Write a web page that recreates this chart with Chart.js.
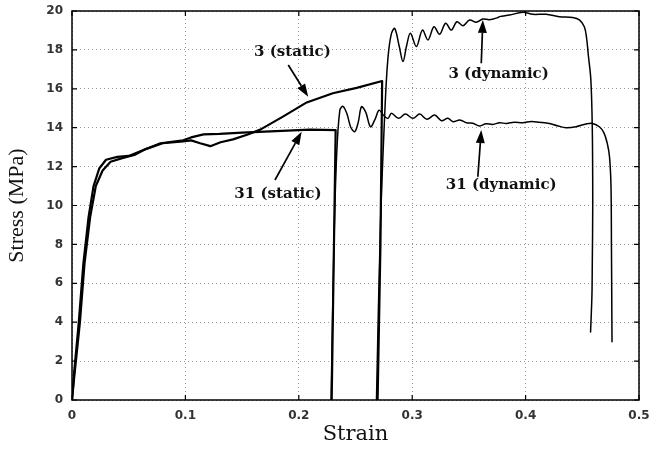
<!DOCTYPE html>
<html>
<head>
<meta charset="utf-8">
<script src="https://cdn.jsdelivr.net/npm/chart.js@4/dist/chart.umd.min.js"></script>
<style>
  html, body { margin: 0; padding: 0; background: #fff; }
  #wrap { width: 650px; height: 449px; }
</style>
</head>
<body>
<div id="wrap"><canvas id="c" width="650" height="449"></canvas></div>
<script>
// Axis ticks
const xTicks = [0, 0.1, 0.2, 0.3, 0.4, 0.5];
const yTicks = [0, 2, 4, 6, 8, 10, 12, 14, 16, 18, 20];

// Stress-strain curves, [strain, stress (MPa)]
const static31 = [
  [0, 0], [0.002, 1.5], [0.006, 4.0], [0.010, 7.0], [0.0146, 9.4], [0.019, 11.0],
  [0.024, 11.9], [0.030, 12.35], [0.040, 12.5], [0.050, 12.55], [0.063, 12.85],
  [0.078, 13.2], [0.098, 13.35], [0.105, 13.5], [0.116, 13.66], [0.130, 13.68],
  [0.150, 13.75], [0.170, 13.8], [0.190, 13.85], [0.210, 13.9], [0.2325, 13.88],
  [0.231, 8.0], [0.229, 0]
];
const static3 = [
  [0, 0], [0.002, 1.2], [0.007, 4.0], [0.011, 7.0], [0.016, 9.4], [0.021, 11.0],
  [0.027, 11.8], [0.034, 12.25], [0.045, 12.45], [0.055, 12.6], [0.065, 12.9],
  [0.080, 13.2], [0.098, 13.3], [0.105, 13.35], [0.113, 13.2], [0.122, 13.05],
  [0.131, 13.25], [0.142, 13.4], [0.155, 13.65], [0.166, 13.9], [0.186, 14.57],
  [0.207, 15.3], [0.230, 15.77], [0.251, 16.05], [0.2735, 16.4], [0.272, 8.0],
  [0.2695, 0]
];
const dynamic31 = [
  [0.2285, 0], [0.231, 8.0], [0.2333, 12.5], [0.2362, 14.9], [0.239, 15.1],
  [0.2425, 14.7], [0.246, 14.0], [0.2494, 13.8], [0.2525, 14.3], [0.2553, 15.08],
  [0.259, 14.8], [0.2632, 14.05], [0.267, 14.4], [0.2708, 14.9], [0.2745, 14.65],
  [0.2787, 14.48], [0.2817, 14.74], [0.288, 14.48], [0.294, 14.7], [0.3007, 14.48],
  [0.3066, 14.7], [0.313, 14.43], [0.3198, 14.65], [0.3257, 14.36], [0.3315, 14.48],
  [0.336, 14.31], [0.342, 14.4], [0.348, 14.25], [0.3535, 14.23], [0.3594, 14.09],
  [0.365, 14.2], [0.371, 14.17], [0.377, 14.25], [0.383, 14.22], [0.390, 14.28],
  [0.3975, 14.26], [0.405, 14.32], [0.4122, 14.28], [0.421, 14.22], [0.428, 14.1],
  [0.4357, 14.0], [0.4445, 14.05], [0.4533, 14.19], [0.459, 14.22], [0.465, 14.05],
  [0.469, 13.75], [0.472, 13.2], [0.474, 12.5], [0.4753, 11.0], [0.4757, 8.0],
  [0.476, 5.0], [0.4762, 3.0]
];
const dynamic3 = [
  [0.2685, 0], [0.272, 9.0], [0.276, 15.0], [0.2785, 17.5], [0.2815, 18.8],
  [0.2846, 19.1], [0.2885, 18.2], [0.2919, 17.4], [0.295, 18.2], [0.2984, 18.85],
  [0.3037, 18.17], [0.309, 19.02], [0.3139, 18.51], [0.3192, 19.19], [0.3242, 18.8],
  [0.3295, 19.37], [0.3345, 19.02], [0.3394, 19.45], [0.3447, 19.24], [0.3506, 19.54],
  [0.3565, 19.42], [0.3623, 19.59], [0.368, 19.55], [0.3755, 19.66], [0.377, 19.71],
  [0.3857, 19.79], [0.3975, 19.93], [0.4063, 19.83], [0.418, 19.83], [0.4298, 19.71],
  [0.4415, 19.66], [0.4474, 19.54], [0.4518, 19.19], [0.4538, 18.6], [0.4553, 17.74],
  [0.4575, 16.5], [0.4588, 14.0], [0.4592, 10.0], [0.4588, 7.0], [0.4585, 5.4],
  [0.4573, 3.5]
];

// Curve labels with arrows (data coordinates)
const labelTexts = ['3 (static)', '31 (static)', '3 (dynamic)', '31 (dynamic)'];
const labelAt    = [[0.1944, 17.89], [0.1816, 10.59], [0.3762, 16.76], [0.3785, 11.05]];
const arrowTail  = [[0.1907, 17.22], [0.1790, 11.31], [0.3609, 17.31], [0.3579, 11.48]];
const arrowHead  = [[0.2083, 15.59], [0.2025, 13.79], [0.3623, 19.54], [0.3609, 13.88]];

const toPts = arr => arr.map(([x, y]) => ({ x, y }));
const curve = (data, width, tension) => ({
  data: toPts(data), showLine: true, borderColor: '#000', borderWidth: width,
  pointRadius: 0, tension, fill: false, borderJoinStyle: 'round', borderCapStyle: 'round'
});

const frame = {
  id: 'frame',
  afterDatasetsDraw(chart) {
    const { ctx, chartArea: a, scales: { x, y } } = chart;
    ctx.save();
    ctx.strokeStyle = '#000';
    ctx.lineWidth = 1.5;
    ctx.strokeRect(a.left, a.top, a.right - a.left, a.bottom - a.top);
    const tl = 5;
    ctx.lineWidth = 1.2;
    ctx.beginPath();
    xTicks.forEach(v => {
      const px = x.getPixelForValue(v);
      ctx.moveTo(px, a.bottom); ctx.lineTo(px, a.bottom - tl);
      ctx.moveTo(px, a.top); ctx.lineTo(px, a.top + tl);
    });
    yTicks.forEach(v => {
      const py = y.getPixelForValue(v);
      ctx.moveTo(a.left, py); ctx.lineTo(a.left + tl, py);
      ctx.moveTo(a.right, py); ctx.lineTo(a.right - tl, py);
    });
    ctx.stroke();

    // arrows
    ctx.fillStyle = '#000';
    ctx.lineWidth = 1.7;
    arrowTail.forEach((t, i) => {
      const x0 = x.getPixelForValue(t[0]), y0 = y.getPixelForValue(t[1]);
      const x1 = x.getPixelForValue(arrowHead[i][0]), y1 = y.getPixelForValue(arrowHead[i][1]);
      const ang = Math.atan2(y1 - y0, x1 - x0);
      const hl = 13, hw = 4.5;
      const bx = x1 - hl * Math.cos(ang), by = y1 - hl * Math.sin(ang);
      ctx.beginPath();
      ctx.moveTo(x0, y0); ctx.lineTo(bx, by);
      ctx.stroke();
      ctx.beginPath();
      ctx.moveTo(x1, y1);
      ctx.lineTo(bx + hw * Math.sin(ang), by - hw * Math.cos(ang));
      ctx.lineTo(bx - hw * Math.sin(ang), by + hw * Math.cos(ang));
      ctx.closePath();
      ctx.fill();
    });

    // labels
    ctx.font = 'bold 15px "DejaVu Serif", serif';
    ctx.textAlign = 'center';
    ctx.textBaseline = 'middle';
    ctx.fillStyle = '#111';
    labelTexts.forEach((s, i) => {
      ctx.fillText(s, x.getPixelForValue(labelAt[i][0]), y.getPixelForValue(labelAt[i][1]));
    });
    ctx.restore();
  }
};

const tickFont = { family: '"DejaVu Sans", sans-serif', size: 12, weight: 'bold' };

new Chart(document.getElementById('c'), {
  type: 'scatter',
  data: {
    datasets: [
      curve(static31, 2.2, 0),
      curve(static3, 2.2, 0),
      curve(dynamic31, 1.5, 0.35),
      curve(dynamic3, 1.5, 0.35)
    ]
  },
  options: {
    responsive: false,
    animation: false,
    devicePixelRatio: 1,
    layout: { padding: { top: 11, right: 11, left: 0, bottom: 0 } },
    plugins: { legend: { display: false }, tooltip: { enabled: false } },
    scales: {
      x: {
        type: 'linear', min: 0, max: 0.5,
        afterBuildTicks: s => { s.ticks = xTicks.map(v => ({ value: v })); },
        afterFit: s => { s.height = 49; s.paddingLeft = 0; s.paddingRight = 0; },
        ticks: {
          autoSkip: false, maxRotation: 0, padding: 9, color: '#333',
          font: tickFont, callback: v => String(v)
        },
        grid: { color: '#9a9a9a', lineWidth: 1, drawTicks: false },
        border: { display: false, dash: [1, 3] },
        title: {
          display: true, text: 'Strain', color: '#111',
          font: { family: '"DejaVu Serif", serif', size: 21 },
          padding: { top: 0, bottom: 2 }
        }
      },
      y: {
        type: 'linear', min: 0, max: 20,
        afterBuildTicks: s => { s.ticks = yTicks.map(v => ({ value: v })); },
        afterFit: s => { s.width = 72; s.paddingTop = 0; s.paddingBottom = 0; },
        ticks: {
          autoSkip: false, padding: 9, color: '#333',
          font: tickFont, callback: v => String(v)
        },
        grid: { color: '#9a9a9a', lineWidth: 1, drawTicks: false },
        border: { display: false, dash: [1, 3] },
        title: {
          display: true, text: 'Stress (MPa)', color: '#111',
          font: { family: '"Liberation Serif", "Times New Roman", serif', size: 22 },
          padding: { top: 4, bottom: 0 }
        }
      }
    }
  },
  plugins: [frame]
});
</script>
</body>
</html>
